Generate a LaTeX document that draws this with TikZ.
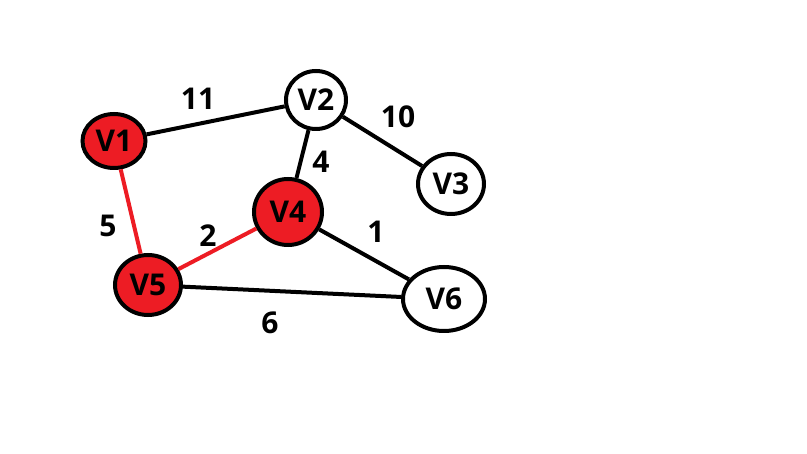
\documentclass[tikz,border=0pt]{standalone}
\usepackage{fontspec}
\setmainfont{Open Sans}
\usetikzlibrary{shapes.geometric}
\definecolor{paintred}{RGB}{237,28,36}

\begin{document}
\begin{tikzpicture}[x=1pt, y=-1pt,
    vertex/.style={ellipse, draw=black, line width=4pt, fill=white, inner sep=0pt,
      font=\fontsize{30}{30}\selectfont\bfseries},
    visited/.style={vertex, fill=paintred},
    weight/.style={font=\fontsize{30}{30}\selectfont\bfseries, inner sep=0pt},
    edge/.style={line width=4pt, draw=black},
    tree/.style={line width=4pt, draw=paintred}]
  \useasboundingbox (0,0) rectangle (807,454);

  % vertices
  \node[visited, minimum width=63pt, minimum height=54pt] (v1) at (114,141) {V1};
  \node[vertex,  minimum width=60pt, minimum height=58pt] (v2) at (316,100) {V2};
  \node[vertex,  minimum width=66pt, minimum height=60pt] (v3) at (451,184) {V3};
  \node[visited, minimum width=68pt, minimum height=66pt] (v4) at (288,212) {V4};
  \node[visited, minimum width=66pt, minimum height=60pt] (v5) at (148,285) {V5};
  \node[vertex,  minimum width=82pt, minimum height=64pt] (v6) at (444,299) {V6};

  % edges
  \draw[edge] (v1) -- (v2);
  \draw[edge] (v2) -- (v3);
  \draw[edge] (v2) -- (v4);
  \draw[edge] (v4) -- (v6);
  \draw[edge] (v5) -- (v6);
  \draw[tree] (v1) -- (v5);
  \draw[tree] (v5) -- (v4);

  % weights
  \node[weight] (w12) at (198,99) {11};
  \node[weight] (w23) at (398,117) {10};
  \node[weight] (w24) at (321,162) {4};
  \node[weight] (w46) at (376,232) {1};
  \node[weight] (w15) at (108,226) {5};
  \node[weight] (w54) at (208,236) {2};
  \node[weight] (w56) at (270,323) {6};
\end{tikzpicture}
\end{document}
